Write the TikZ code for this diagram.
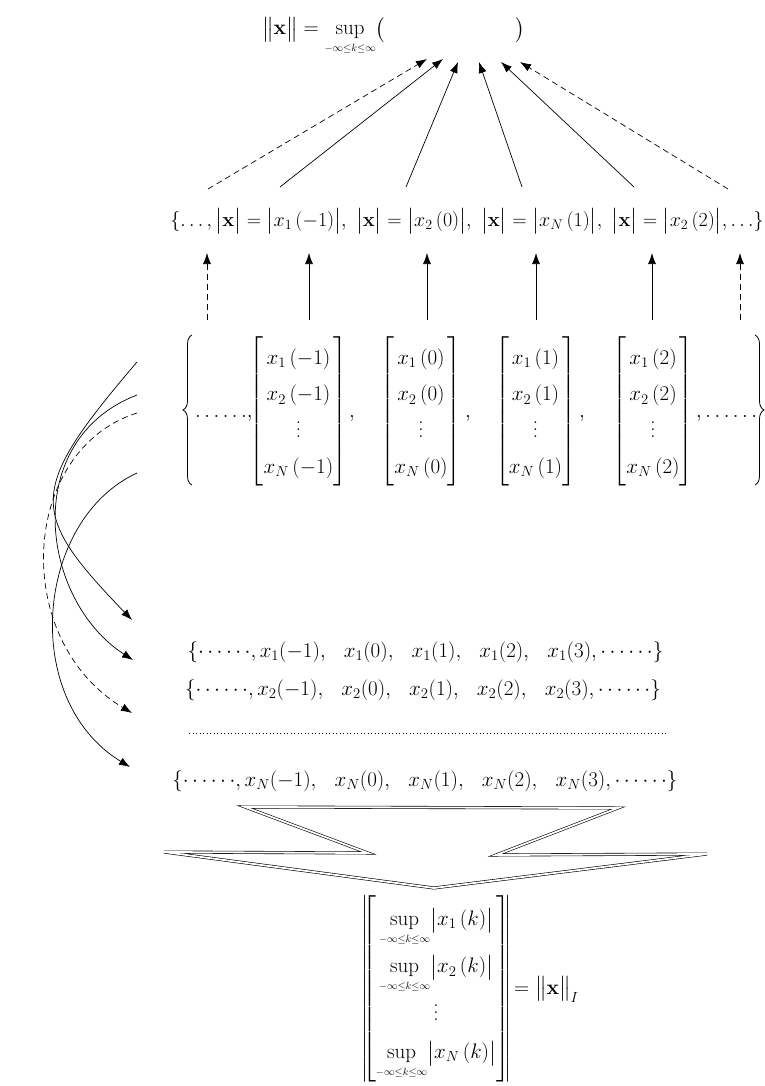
\RequirePackage{fix-cm}
\documentclass[tikz,border=0pt]{standalone}
\usepackage{amsmath}
\usetikzlibrary{arrows.meta,calc,decorations.pathreplacing}
\newcommand{\vd}{\vbox{\baselineskip7pt\lineskiplimit0pt\hbox{.}\hbox{.}\hbox{.}}}
\newcommand{\lims}{\sup\limits_{\scriptscriptstyle-\infty\le k\le\infty}}
\newcommand{\gap}{\hspace{0.7em}}
\begin{document}
\begin{tikzpicture}[x=1pt,y=1pt,
  every node/.style={inner sep=0pt, font=\fontsize{21}{25}\selectfont\renewcommand{\arraystretch}{1.45}},
  rowtwo/.style={font=\fontsize{20}{24}\selectfont},
  arr/.style={-{Latex[length=11pt,width=8pt]}, line width=0.7pt},
  dsh/.style={dash pattern=on 6pt off 4pt},
  dotline/.style={line width=0.9pt, dash pattern=on 0.9pt off 2.6pt},
  bigbrace/.style={decorate, decoration={brace, amplitude=9pt}, line width=0.8pt},
  bigarrow/.style={draw, line width=0.6pt, double, double distance=1.8pt}]
\useasboundingbox (0,0) rectangle (764,-1086);

% top formula
\node[anchor=base west] (top) at (262,-35) {$\bigl\|\mathbf{x}\bigr\|=\lims\bigl(\hspace{130pt}\bigr)$};

% second row
\node[rowtwo, anchor=base] (r2) at (467,-226) {$\{\ldots,\bigl|\mathbf{x}\bigr|=\bigl|x_1\,(-1)\bigr|,\ \bigl|\mathbf{x}\bigr|=\bigl|x_2\,(0)\bigr|,\ \bigl|\mathbf{x}\bigr|=\bigl|x_N\,(1)\bigr|,\ \bigl|\mathbf{x}\bigr|=\bigl|x_2\,(2)\bigr|,\ldots\}$};

% matrix row
\coordinate (brLb) at (192,-485); \coordinate (brLt) at (192,-335);
\coordinate (brRt) at (755,-335); \coordinate (brRb) at (755,-485);
\draw[bigbrace] (brLb) -- (brLt);
\draw[bigbrace] (brRt) -- (brRb);
\node[anchor=base west] (dL) at (195,-417) {${\ldots\ldots},$};
\node[anchor=base] (m1) at (298.5,-417) {$\begin{bmatrix}x_1\,(-1)\\x_2\,(-1)\\\vd\\x_N\,(-1)\end{bmatrix}$};
\node[anchor=base west] (c1) at (349,-417) {$,$};
\node[anchor=base] (m2) at (421,-417) {$\begin{bmatrix}x_1\,(0)\\x_2\,(0)\\\vd\\x_N\,(0)\end{bmatrix}$};
\node[anchor=base west] (c2) at (465,-417) {$,$};
\node[anchor=base] (m3) at (535.5,-417) {$\begin{bmatrix}x_1\,(1)\\x_2\,(1)\\\vd\\x_N\,(1)\end{bmatrix}$};
\node[anchor=base west] (c3) at (579,-417) {$,$};
\node[anchor=base] (m4) at (653,-417) {$\begin{bmatrix}x_1\,(2)\\x_2\,(2)\\\vd\\x_N\,(2)\end{bmatrix}$};
\node[anchor=base west] (dR) at (696,-417) {$,{\ldots\ldots}$};

% sequences
\node[anchor=base] (s1) at (425.5,-657) {$\{{\cdots\cdots},x_1(-1),\gap x_1(0),\gap x_1(1),\gap x_1(2),\gap x_1(3),{\cdots\cdots}\}$};
\node[anchor=base] (s2) at (423,-695) {$\{{\cdots\cdots},x_2(-1),\gap x_2(0),\gap x_2(1),\gap x_2(2),\gap x_2(3),{\cdots\cdots}\}$};
\node[anchor=base] (sN) at (425,-786) {$\{{\cdots\cdots},x_N(-1),\gap x_N(0),\gap x_N(1),\gap x_N(2),\gap x_N(3),{\cdots\cdots}\}$};
\coordinate (dl) at (189,-733);
\coordinate (dr) at (668,-733);
\draw[dotline] (dl) -- (dr);

% result
\node[anchor=base] (bm) at (436,-994) {\renewcommand{\arraystretch}{1.55}$\left|\mkern-5mu\begin{bmatrix}\lims\bigl|x_1\,(k)\bigr|\\ \lims\bigl|x_2\,(k)\bigr|\\ \vd\\ \lims\bigl|x_N\,(k)\bigr|\end{bmatrix}\mkern-5mu\right|$};
\node[anchor=base west] (nrm) at (514,-994) {$=\bigl\|\mathbf{x}\bigr\|_I$};

% big arrow
\draw[bigarrow] (245,-807) -- (368,-853) -- (164,-852) -- (434,-888) -- (707,-854) -- (496,-855) -- (618,-808) -- cycle;

% top arrows
\coordinate (b1) at (208,-189); \coordinate (t1) at (427,-59);
\coordinate (b2) at (280,-187); \coordinate (t2) at (443,-59);
\coordinate (b3) at (406,-187); \coordinate (t3) at (458,-62);
\coordinate (b4) at (522,-187); \coordinate (t4) at (479,-62);
\coordinate (b5) at (634,-187); \coordinate (t5) at (501,-62);
\coordinate (b6) at (728,-189); \coordinate (t6) at (520,-62);
\draw[arr,dsh] (b1) -- (t1);
\draw[arr] (b2) -- (t2);
\draw[arr] (b3) -- (t3);
\draw[arr] (b4) -- (t4);
\draw[arr] (b5) -- (t5);
\draw[arr,dsh] (b6) -- (t6);

% vertical arrows
\foreach \i/\xx in {1/207,2/309,3/427,4/536,5/652,6/740}{
  \coordinate (u\i) at (\xx,-320);
  \coordinate (w\i) at (\xx,-253);
}
\draw[arr,dsh] (u1) -- (w1);
\draw[arr] (u2) -- (w2);
\draw[arr] (u3) -- (w3);
\draw[arr] (u4) -- (w4);
\draw[arr] (u5) -- (w5);
\draw[arr,dsh] (u6) -- (w6);

% curved arrows
\coordinate (p1) at (137,-362); \coordinate (q1) at (132,-620);
\coordinate (p2) at (137,-395); \coordinate (q2) at (133,-660);
\coordinate (p3) at (137,-413); \coordinate (q3) at (132,-713);
\coordinate (p4) at (137,-473); \coordinate (q4) at (130,-767);
\draw[arr] (p1) .. controls (27,-491) and (28,-512) .. (q1);
\draw[arr] (p2) .. controls (20,-440) and (40,-600) .. (q2);
\draw[arr,dsh] (p3) .. controls (20,-450) and (10,-640) .. (q3);
\draw[arr] (p4) .. controls (35,-520) and (20,-700) .. (q4);
\end{tikzpicture}
\end{document}
